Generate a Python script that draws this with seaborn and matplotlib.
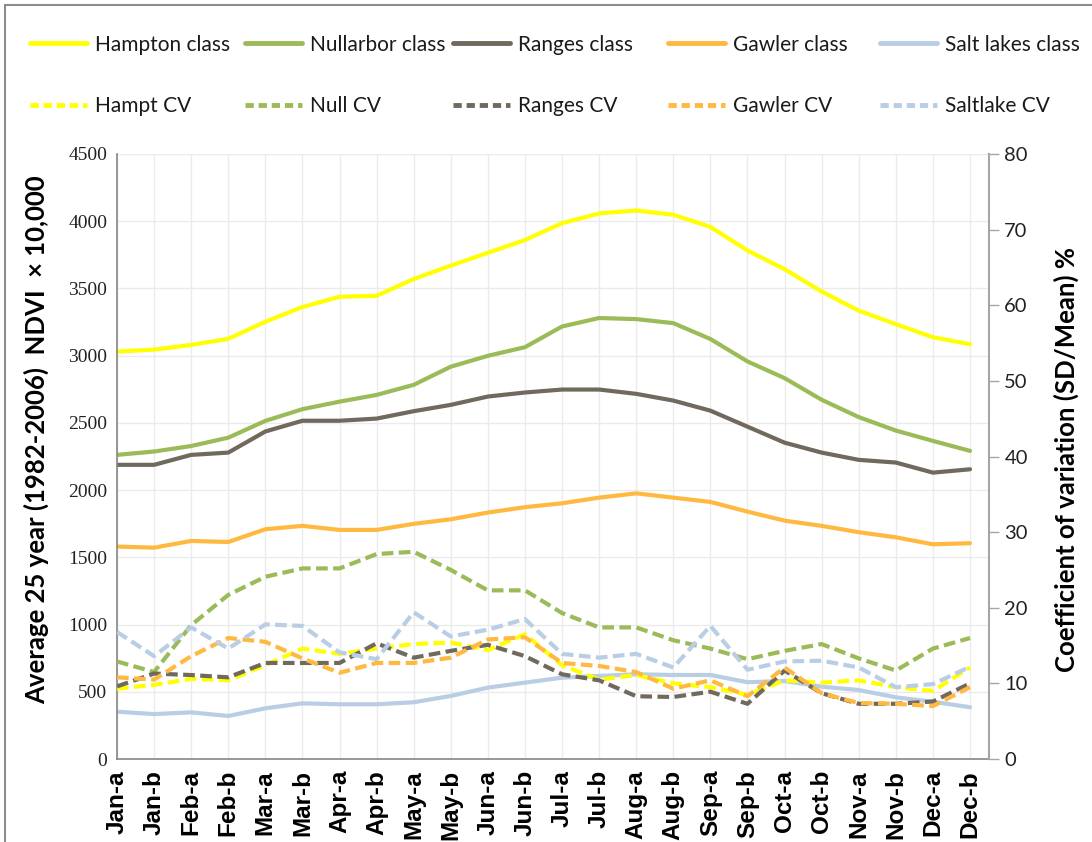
import numpy as np
import pandas as pd
import matplotlib
matplotlib.use("Agg")
import matplotlib.pyplot as plt
import seaborn as sns
from matplotlib.lines import Line2D
from matplotlib.patches import Rectangle

# ---------------- data ----------------
categories = ["Jan-a", "Jan-b", "Feb-a", "Feb-b", "Mar-a", "Mar-b", "Apr-a", "Apr-b",
              "May-a", "May-b", "Jun-a", "Jun-b", "Jul-a", "Jul-b", "Aug-a", "Aug-b",
              "Sep-a", "Sep-b", "Oct-a", "Oct-b", "Nov-a", "Nov-b", "Dec-a", "Dec-b"]

hampton_class = [3030, 3045, 3080, 3125, 3252, 3362, 3438, 3445, 3570, 3670, 3765, 3860,
                 3985, 4058, 4080, 4048, 3958, 3782, 3643, 3477, 3335, 3234, 3137, 3085]
nullarbor_class = [2262, 2287, 2328, 2390, 2515, 2602, 2658, 2708, 2783, 2918, 2999, 3063,
                   3217, 3280, 3272, 3242, 3124, 2957, 2833, 2672, 2543, 2443, 2366, 2292]
ranges_class = [2188, 2188, 2262, 2279, 2436, 2516, 2516, 2532, 2587, 2634, 2696, 2726,
                2748, 2748, 2716, 2666, 2591, 2472, 2353, 2279, 2225, 2205, 2130, 2155]
gawler_class = [1580, 1572, 1622, 1614, 1709, 1734, 1704, 1704, 1749, 1783, 1833, 1873,
                1902, 1944, 1976, 1944, 1912, 1840, 1773, 1734, 1687, 1649, 1597, 1605]
salt_lakes_class = [352, 334, 347, 320, 377, 414, 407, 407, 422, 469, 531, 568,
                    605, 618, 630, 625, 625, 571, 580, 538, 513, 459, 426, 385]

hampt_cv = [9.3, 9.8, 10.6, 10.4, 12.4, 14.6, 13.9, 14.6, 15.2, 15.4, 14.4, 16.5,
            12.4, 10.5, 11.1, 10.0, 9.5, 8.5, 10.4, 10.1, 10.4, 9.5, 9.0, 12.1]
null_cv = [12.9, 11.5, 17.7, 21.7, 24.1, 25.2, 25.2, 27.1, 27.4, 25.0, 22.3, 22.3,
           19.3, 17.4, 17.4, 15.7, 14.6, 13.2, 14.3, 15.2, 13.3, 11.7, 14.6, 16.0]
ranges_cv = [9.6, 11.3, 11.1, 10.8, 12.7, 12.7, 12.7, 15.3, 13.4, 14.3, 15.1, 13.6,
             11.2, 10.4, 8.3, 8.2, 8.9, 7.3, 11.7, 8.7, 7.3, 7.3, 7.6, 10.0]
gawler_cv = [10.8, 10.5, 13.6, 16.0, 15.5, 13.3, 11.4, 12.7, 12.7, 13.4, 15.8, 16.1,
             12.7, 12.3, 11.5, 9.3, 10.4, 8.3, 12.1, 8.7, 7.4, 7.3, 7.0, 9.5]
saltlake_cv = [16.8, 13.6, 17.4, 14.6, 17.8, 17.6, 14.1, 13.2, 19.4, 16.2, 17.1, 18.5,
               13.9, 13.4, 13.9, 12.1, 17.6, 11.8, 12.9, 13.0, 12.1, 9.5, 9.9, 12.2]

class_names = ["Hampton class", "Nullarbor class", "Ranges class", "Gawler class", "Salt lakes class"]
cv_names = ["Hampt CV", "Null CV", "Ranges CV", "Gawler CV", "Saltlake CV"]
left_ticks = [0, 500, 1000, 1500, 2000, 2500, 3000, 3500, 4000, 4500]
right_ticks = [0, 10, 20, 30, 40, 50, 60, 70, 80]

# ---------------- style ----------------
colors = ["#FFFF00", "#9BBB59", "#6F6A5D", "#FFB940", "#B9CDE5"]
sns.set_theme(style="white")
plt.rcParams['font.family'] = ['Lato', 'DejaVu Sans']

W, H = 1092, 842
fig = plt.figure(figsize=(W / 100, H / 100), dpi=100)
fig.patch.set_facecolor("white")
L, R, T, B = 117, 989, 154, 759
ax = fig.add_axes([L / W, 1 - B / H, (R - L) / W, (B - T) / H])
ax2 = ax.twinx()

pos = np.arange(len(categories))
df = pd.DataFrame({"pos": pos})
for n, v in zip(class_names, [hampton_class, nullarbor_class, ranges_class, gawler_class, salt_lakes_class]):
    df[n] = v
for n, v in zip(cv_names, [hampt_cv, null_cv, ranges_cv, gawler_cv, saltlake_cv]):
    df[n] = v

for n, c in zip(class_names, colors):
    sns.lineplot(data=df, x="pos", y=n, ax=ax, color=c, linewidth=3.0, legend=False)
dash = (0, (2.8, 1.3))
for n, c in zip(cv_names, colors):
    sns.lineplot(data=df, x="pos", y=n, ax=ax2, color=c, linewidth=3.0,
                 linestyle=dash, legend=False)

# axes limits & ticks
ax.set_xlim(0, 23 + 19 / 37.1)
ax.set_ylim(0, 4500)
ax2.set_ylim(0, 80)
ax.set_yticks(left_ticks)
ax.set_yticklabels([str(t) for t in left_ticks], fontfamily="Liberation Serif", fontsize=14, color="#222222")
ax2.set_yticks(right_ticks)
ax2.set_yticklabels([str(t) for t in right_ticks], fontsize=14.5, color="#222222")
ax.set_xticks(pos)
ax.set_xticklabels(categories, rotation=90, fontfamily="Liberation Sans",
                   fontweight="bold", fontsize=17.5, color="black")
ax.set_xlabel("")
ax.set_ylabel("")
ax2.set_xlabel("")
ax2.set_ylabel("")

ax.tick_params(axis="y", length=0, pad=7)
ax.tick_params(axis="x", length=5, width=1, color="#868686", pad=3, direction="out")
ax2.tick_params(axis="y", length=7, width=1, color="#A6A6A6", pad=4, direction="out")

ax.grid(True, color="#EBEBEB", linewidth=1)
ax.set_axisbelow(True)
ax.spines["top"].set_visible(False)
ax2.spines["top"].set_visible(False)
ax.spines["right"].set_visible(False)
ax2.spines["left"].set_visible(False)
ax2.spines["bottom"].set_visible(False)
ax.spines["left"].set_color("#868686")
ax.spines["bottom"].set_color("#868686")
ax2.spines["right"].set_color("#A6A6A6")
for sp in ax.spines.values():
    sp.set_linewidth(1.2)
ax2.spines["right"].set_linewidth(1.5)
ax2.grid(False)

# axis titles
fig.text(36 / W, 1 - 440 / H, "Average 25 year (1982-2006)  NDVI  \u00d7 10,000",
         rotation=90, ha="center", va="center", fontsize=18.5, fontweight="bold", color="black")
fig.text(1066 / W, 1 - 460 / H, "Coefficient of variation (SD/Mean) %",
         rotation=90, ha="center", va="center", fontsize=18.5, fontweight="bold", color="black")

# legend (5 columns, solid class line on top, dashed CV below)
col_x = [30, 245, 453, 668, 880]
for i in range(5):
    hs = [Line2D([], [], color=colors[i], lw=3.5),
          Line2D([], [], color=colors[i], lw=3.5, linestyle=(0, (1.7, 1.0)))]
    fig.legend(hs, [class_names[i], cv_names[i]], loc="center left",
               bbox_to_anchor=(col_x[i] / W, 1 - 75.5 / H), frameon=False,
               fontsize=15, handlelength=2.75, handletextpad=0.35,
               labelspacing=2.0, borderpad=0, borderaxespad=0,
               labelcolor="#1a1a1a")

# outer chart border (visible top and left edges)
fig.patches.append(Rectangle((5 / W, -0.05), 1.2, 1 - 5 / H + 0.05, transform=fig.transFigure,
                             fill=False, edgecolor="#8C8C8C", linewidth=1.5))

fig.savefig("out.png", dpi=100)
